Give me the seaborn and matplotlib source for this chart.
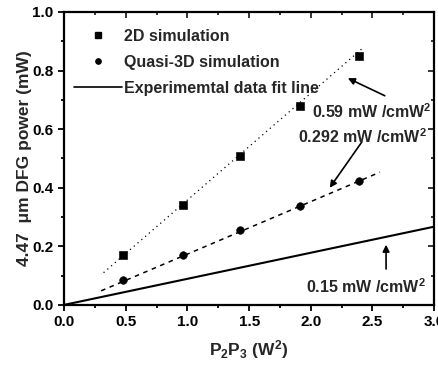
import matplotlib
matplotlib.use("Agg")
import matplotlib.pyplot as plt
from matplotlib.ticker import MultipleLocator
from matplotlib.lines import Line2D
import seaborn as sns
import pandas as pd

# data
pp = [0.48, 0.96, 1.43, 1.91, 2.39]
sim_2d = [0.17, 0.34, 0.51, 0.68, 0.85]
sim_q3d = [0.085, 0.17, 0.254, 0.336, 0.423]

# fitted lines (end points)
fit_2d_x = [0.32, 2.43]
fit_2d_y = [0.11, 0.88]
fit_q3d_x = [0.30, 2.56]
fit_q3d_y = [0.048, 0.453]
exp_x = [0.0, 3.0]
exp_y = [0.0, 0.267]

labels = ['2D simulation', 'Quasi-3D simulation', 'Experimemtal data fit line']

sns.set_theme(style='ticks')
plt.rcParams['font.family'] = ['Liberation Sans', 'DejaVu Sans']
plt.rcParams['font.weight'] = 'bold'
plt.rcParams['mathtext.default'] = 'regular'

fig = plt.figure(figsize=(4.39, 3.75), dpi=100)
ax = fig.add_axes([0.146, 0.187, 0.843, 0.781])

sns.lineplot(x=fit_2d_x, y=fit_2d_y, ax=ax, color='black', linestyle=(0, (1, 3)), linewidth=0.9)
sns.lineplot(x=fit_q3d_x, y=fit_q3d_y, ax=ax, color='black', linestyle=(0, (3, 3)), linewidth=1.1)
sns.lineplot(x=exp_x, y=exp_y, ax=ax, color='black', linewidth=1.5)

df = pd.DataFrame({'x': pp, 'd2': sim_2d, 'q3': sim_q3d})
sns.scatterplot(data=df, x='x', y='d2', ax=ax, marker='s', s=30, color='black', edgecolor='black')
sns.scatterplot(data=df, x='x', y='q3', ax=ax, marker='o', s=30, color='black', edgecolor='black')

handles = [Line2D([], [], marker='s', color='black', linestyle='none', markersize=4.5),
           Line2D([], [], marker='o', color='black', linestyle='none', markersize=3.8),
           Line2D([], [], color='black', linewidth=1.2)]
ax.legend(handles, labels, loc='upper left', bbox_to_anchor=(0.0, 0.975), frameon=False,
          handlelength=3.0, handletextpad=0.15, labelspacing=0.68,
          borderaxespad=0.2, prop={'weight': 'bold', 'size': 11.5})

ax.set_xlim(0, 3.0)
ax.set_ylim(0, 1.0)
ax.xaxis.set_major_locator(MultipleLocator(0.5))
ax.xaxis.set_minor_locator(MultipleLocator(0.25))
ax.yaxis.set_major_locator(MultipleLocator(0.2))
ax.yaxis.set_minor_locator(MultipleLocator(0.1))
ax.xaxis.set_major_formatter(matplotlib.ticker.FormatStrFormatter('%.1f'))
ax.yaxis.set_major_formatter(matplotlib.ticker.FormatStrFormatter('%.1f'))
ax.tick_params(which='both', direction='out', width=1.3, labelsize=11, colors='black')
ax.tick_params(which='major', length=4)
ax.tick_params(which='minor', length=2.5)
for s in ax.spines.values():
    s.set_visible(True)
    s.set_linewidth(1.6)
    s.set_color('black')

# mirrored ticks on top and right, pointing inward
top = ax.secondary_xaxis('top')
top.xaxis.set_major_locator(MultipleLocator(0.5))
top.xaxis.set_minor_locator(MultipleLocator(0.25))
top.tick_params(which='both', direction='in', labeltop=False, width=1.3)
top.tick_params(which='major', length=4)
top.tick_params(which='minor', length=2.5)
right = ax.secondary_yaxis('right')
right.yaxis.set_major_locator(MultipleLocator(0.2))
right.yaxis.set_minor_locator(MultipleLocator(0.1))
right.tick_params(which='both', direction='in', labelright=False, width=1.3)
right.tick_params(which='major', length=4)
right.tick_params(which='minor', length=2.5)

ax.set_xlabel(r'P$_2$P$_3$ (W$^2$)', fontsize=12.5, fontweight='bold', labelpad=6)
ax.set_ylabel(u'4.47  \u03bcm DFG power (mW)', fontsize=12.5, fontweight='bold', labelpad=0.5)

arrow = dict(arrowstyle='-|>', color='black', linewidth=1.2, mutation_scale=10)
ax.annotate('', xy=(2.28, 0.778), xytext=(2.62, 0.71), arrowprops=arrow)
ax.annotate('', xy=(2.14, 0.392), xytext=(2.425, 0.563), arrowprops=arrow)
ax.annotate('', xy=(2.61, 0.215), xytext=(2.61, 0.113), arrowprops=arrow)
ax.text(2.01, 0.659, r'0.59 mW /cmW$^2$', fontsize=11.5, fontweight='bold', va='center')
ax.text(1.90, 0.573, r'0.292 mW /cmW$^2$', fontsize=11.5, fontweight='bold', va='center')
ax.text(1.96, 0.061, r'0.15 mW /cmW$^2$', fontsize=11.5, fontweight='bold', va='center')

fig.savefig('out.png', dpi=100)
